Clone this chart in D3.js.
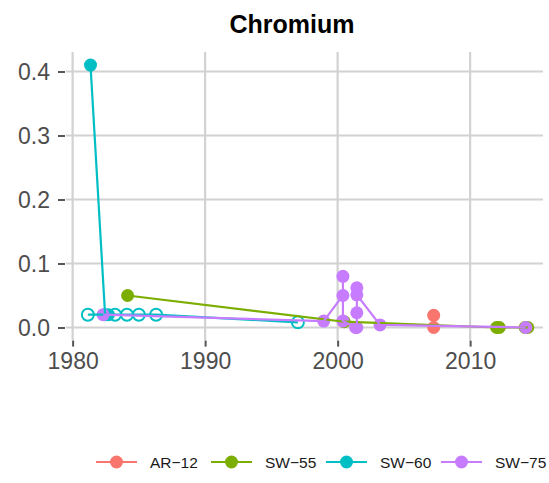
<!DOCTYPE html>
<html>
<head>
<meta charset="utf-8">
<script src="https://d3js.org/d3.v7.min.js"></script>
<style>
  body { margin: 0; background: #fff; }
  text { font-family: "Liberation Sans", Arial, sans-serif; }
  .grid line { stroke: #d2d2d2; stroke-width: 2.2px; }
</style>
</head>
<body>
<svg width="549" height="483"></svg>
<script>
// series names and colours (ggplot hues)
var sites = ["AR\u221212", "SW\u221255", "SW\u221260", "SW\u221275"];
var colors = ["#F8766D", "#7CAE00", "#00BFC4", "#C77CFF"];

// sample dates (decimal year), Cr values, detected flag (0 = hollow / non-detect)
// rows are kept in the order the path visits them
var ar12Year = [2007.25, 2007.25];
var ar12Value = [0.019, 0.0];
var ar12Det = [1, 1];

var sw55Year = [1984.15, 2000.5, 2012.0, 2012.2, 2014.15, 2014.35];
var sw55Value = [0.05, 0.009, 0.0, 0.0, 0.0, 0.0];
var sw55Det = [1, 1, 1, 1, 1, 1];

var sw60Year = [1981.35, 1982.45, 1981.15, 1982.7, 1983.2, 1984.1, 1985.0, 1986.3, 1997.0];
var sw60Value = [0.41, 0.02, 0.02, 0.02, 0.02, 0.02, 0.02, 0.02, 0.008];
var sw60Det = [1, 1, 0, 1, 0, 0, 0, 0, 0];

var sw75Year = [1982.3, 1998.95, 2000.4, 2000.4, 2000.4, 2001.35, 2001.45, 2001.45, 2001.45, 2001.45, 2003.2, 2014.2];
var sw75Value = [0.02, 0.01, 0.05, 0.08, 0.01, 0.0, 0.0, 0.023, 0.062, 0.051, 0.004, 0.0];
var sw75Det = [1, 1, 1, 1, 1, 1, 1, 1, 1, 1, 1, 1];

var xTicks = [1980, 1990, 2000, 2010];
var yTicks = [0, 0.1, 0.2, 0.3, 0.4];

function pack(years, values, det) {
    return years.map(function(d, i) { return {year: d, value: values[i], det: det[i]}; });
}
var data = [
    pack(ar12Year, ar12Value, ar12Det),
    pack(sw55Year, sw55Value, sw55Det),
    pack(sw60Year, sw60Value, sw60Det),
    pack(sw75Year, sw75Value, sw75Det)
];

var svg = d3.select("svg");

var x = d3.scaleLinear().domain([1979.5, 2015.5]).range([66, 543]);
var y = d3.scaleLinear().domain([-0.0205, 0.4305]).range([340.6, 52]);

// grid
var grid = svg.append("g").attr("class", "grid");
grid.selectAll("line.v").data(xTicks).enter().append("line")
    .attr("x1", function(d) { return x(d); }).attr("x2", function(d) { return x(d); })
    .attr("y1", y.range()[1]).attr("y2", y.range()[0]);
grid.selectAll("line.h").data(yTicks).enter().append("line")
    .attr("y1", function(d) { return y(d); }).attr("y2", function(d) { return y(d); })
    .attr("x1", x.range()[0]).attr("x2", x.range()[1]);

// axes
var xAxis = svg.append("g").attr("transform", "translate(0," + y.range()[0] + ")")
    .call(d3.axisBottom(x).tickValues(xTicks).tickFormat(d3.format("d")).tickSize(6).tickPadding(6));
var yAxis = svg.append("g").attr("transform", "translate(" + (x.range()[0] - 1) + ",0)")
    .call(d3.axisLeft(y).tickValues(yTicks).tickFormat(d3.format(".1f")).tickSize(7).tickPadding(8));
[xAxis, yAxis].forEach(function(a) {
    a.select(".domain").remove();
    a.selectAll(".tick line").attr("stroke", "#555").attr("stroke-width", 2);
    a.selectAll(".tick text").attr("fill", "#4d4d4d").style("font-size", "23px")
        .style("font-family", "'Liberation Sans', Arial, sans-serif");
});
yAxis.selectAll(".tick text").attr("dy", "0.36em");

// points
data.forEach(function(s, i) {
    svg.append("g").selectAll("circle").data(s).enter().append("circle")
        .attr("cx", function(d) { return x(d.year); })
        .attr("cy", function(d) { return y(d.value); })
        .attr("r", function(d) { return d.det ? 6.5 : 6; })
        .attr("fill", function(d) { return d.det ? colors[i] : "none"; })
        .attr("stroke", colors[i])
        .attr("stroke-width", function(d) { return d.det ? 0 : 2; });
});

// lines
var line = d3.line().x(function(d) { return x(d.year); }).y(function(d) { return y(d.value); });
data.forEach(function(s, i) {
    svg.append("path").datum(s)
        .attr("d", line)
        .attr("fill", "none")
        .attr("stroke", colors[i])
        .attr("stroke-width", 2.2);
});

// title
svg.append("text").attr("x", 292).attr("y", 33).attr("text-anchor", "middle")
    .style("font-size", "25px").style("font-weight", "bold").attr("fill", "#000")
    .text("Chromium");

// legend
var legX = [96, 211, 326, 441];
var leg = svg.append("g").selectAll("g").data(sites).enter().append("g")
    .attr("transform", function(d, i) { return "translate(" + legX[i] + ",462)"; });
leg.append("line").attr("x1", 0).attr("x2", 41).attr("y1", 0).attr("y2", 0)
    .attr("stroke", function(d, i) { return colors[i]; }).attr("stroke-width", 2.2);
leg.append("circle").attr("cx", 20.5).attr("cy", 0).attr("r", 6.5)
    .attr("fill", function(d, i) { return colors[i]; });
leg.append("text").attr("x", 54).attr("y", 0).attr("dy", "0.36em")
    .style("font-size", "15.5px").attr("fill", "#1a1a1a")
    .text(function(d) { return d; });
</script>
</body>
</html>
